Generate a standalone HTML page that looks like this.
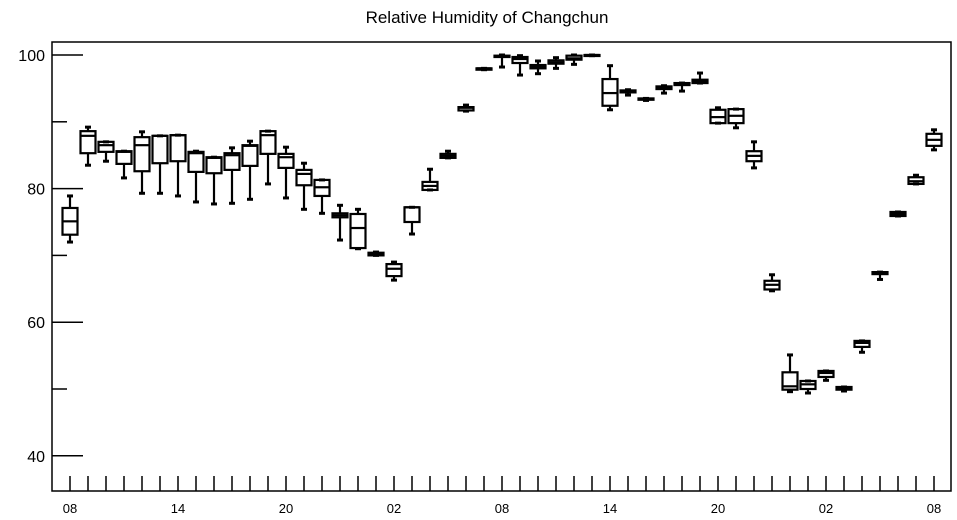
<!DOCTYPE html>
<html><head><meta charset="utf-8"><style>
body{margin:0;background:#fff;}
svg{display:block;font-family:"Liberation Sans",sans-serif;}
</style></head><body>
<svg id="chart" width="957" height="520" viewBox="0 0 957 520">
<text x="487" y="23" font-size="17" text-anchor="middle">Relative Humidity of Changchun</text>
<rect x="52" y="42" width="899" height="449" fill="none" stroke="#000" stroke-width="1.5"/>
<g id="axes"></g>
<g id="marks"></g>
</svg>
<script>
const hourLabels=["08","14","20","02","08","14","20","02","08"];
const yTicks=[40,60,80,100];
const lowWhisker=[72.0,83.5,84.1,81.6,79.3,79.3,78.9,78.0,77.7,77.8,78.4,80.7,78.6,76.9,76.3,72.3,71.0,70.0,66.3,73.2,79.8,84.6,91.6,97.8,98.2,97.0,97.2,98.0,98.6,99.9,91.8,94.0,93.2,94.3,94.6,95.8,89.8,89.1,83.1,64.7,49.6,49.4,51.3,49.7,55.5,66.4,75.9,80.7,85.8];
const q1=[73.1,85.3,85.5,83.7,82.6,83.8,84.1,82.5,82.3,82.8,83.4,85.2,83.1,80.5,78.9,75.7,71.1,70.0,66.9,75.0,79.8,84.6,91.7,97.8,99.7,98.8,98.0,98.7,99.3,99.9,92.4,94.4,93.3,94.9,95.5,95.8,89.8,89.8,84.1,64.9,49.9,50.0,51.8,49.9,56.3,67.2,75.9,80.7,86.4];
const medians=[75.1,87.9,86.5,85.5,86.5,87.9,88.0,85.3,84.6,85.0,86.4,88.0,84.7,82.2,80.2,76.0,74.1,70.2,68.0,77.2,80.4,84.9,92.1,98.0,99.8,99.4,98.2,98.9,99.5,100.0,94.3,94.6,93.4,95.0,95.6,96.1,90.7,90.9,84.9,65.6,50.4,50.7,52.4,50.1,56.9,67.4,76.2,81.1,87.3];
const q3=[77.1,88.6,87.0,85.6,87.7,87.9,88.0,85.5,84.7,85.3,86.5,88.6,85.2,82.8,81.3,76.3,76.2,70.4,68.7,77.2,81.0,85.2,92.2,98.0,99.9,99.7,98.5,99.2,99.9,100.0,96.4,94.7,93.5,95.3,95.8,96.3,91.8,91.9,85.6,66.2,52.5,51.2,52.7,50.3,57.2,67.5,76.5,81.7,88.2];
const highWhisker=[78.9,89.2,87.0,85.6,88.5,87.9,88.0,85.6,84.7,86.1,87.1,88.6,86.2,83.8,81.3,77.5,76.9,70.5,69.0,77.2,82.9,85.6,92.5,98.0,100.0,99.9,99.1,99.6,100.0,100.0,98.4,94.8,93.5,95.4,95.8,97.3,92.1,91.9,87.0,67.1,55.1,51.2,52.7,50.3,57.2,67.5,76.5,82.0,88.8];

const NS="http://www.w3.org/2000/svg";
const yPx=v=>55+(100-v)*6.68;
const xPx=i=>70+i*18;
const axes=document.getElementById('axes');
const marks=document.getElementById('marks');
function mk(tag,attrs,parent){const e=document.createElementNS(NS,tag);for(const k in attrs)e.setAttribute(k,attrs[k]);parent.appendChild(e);return e;}

for(let v=40;v<=100;v+=10){
  const major=yTicks.includes(v);
  const t=mk('line',{x1:52,x2:major?83:67,y1:yPx(v),y2:yPx(v),stroke:'#000','stroke-width':1.5},axes);
  
  
}
yTicks.forEach(v=>{
  const t=mk('text',{x:45,y:yPx(v)+6,'font-size':16,'text-anchor':'end'},axes);
  t.textContent=v;
  
  
});
for(let i=0;i<medians.length;i++){
  const t=mk('line',{x1:xPx(i),x2:xPx(i),y1:491,y2:476,stroke:'#000','stroke-width':1.5},axes);
  
  
}
hourLabels.forEach((l,k)=>{
  const t=mk('text',{x:xPx(k*6),y:513,'font-size':13,'text-anchor':'middle'},axes);
  t.textContent=l;
  
  
});

const bw=15;
for(let i=0;i<medians.length;i++){
  const g=mk('g',{stroke:'#000','stroke-width':2.2,fill:'none'},marks);
  
  
  const x=xPx(i);
  mk('line',{x1:x,x2:x,y1:yPx(highWhisker[i]),y2:yPx(q3[i])},g);
  mk('line',{x1:x,x2:x,y1:yPx(q1[i]),y2:yPx(lowWhisker[i])},g);
  mk('line',{x1:x-3,x2:x+3,y1:yPx(highWhisker[i]),y2:yPx(highWhisker[i]),'stroke-width':3},g);
  mk('line',{x1:x-3,x2:x+3,y1:yPx(lowWhisker[i]),y2:yPx(lowWhisker[i]),'stroke-width':3},g);
  mk('rect',{x:x-bw/2,y:yPx(q3[i]),width:bw,height:Math.max(1,yPx(q1[i])-yPx(q3[i]))},g);
  mk('line',{x1:x-bw/2,x2:x+bw/2,y1:yPx(medians[i]),y2:yPx(medians[i])},g);
}
</script>
</body></html>
